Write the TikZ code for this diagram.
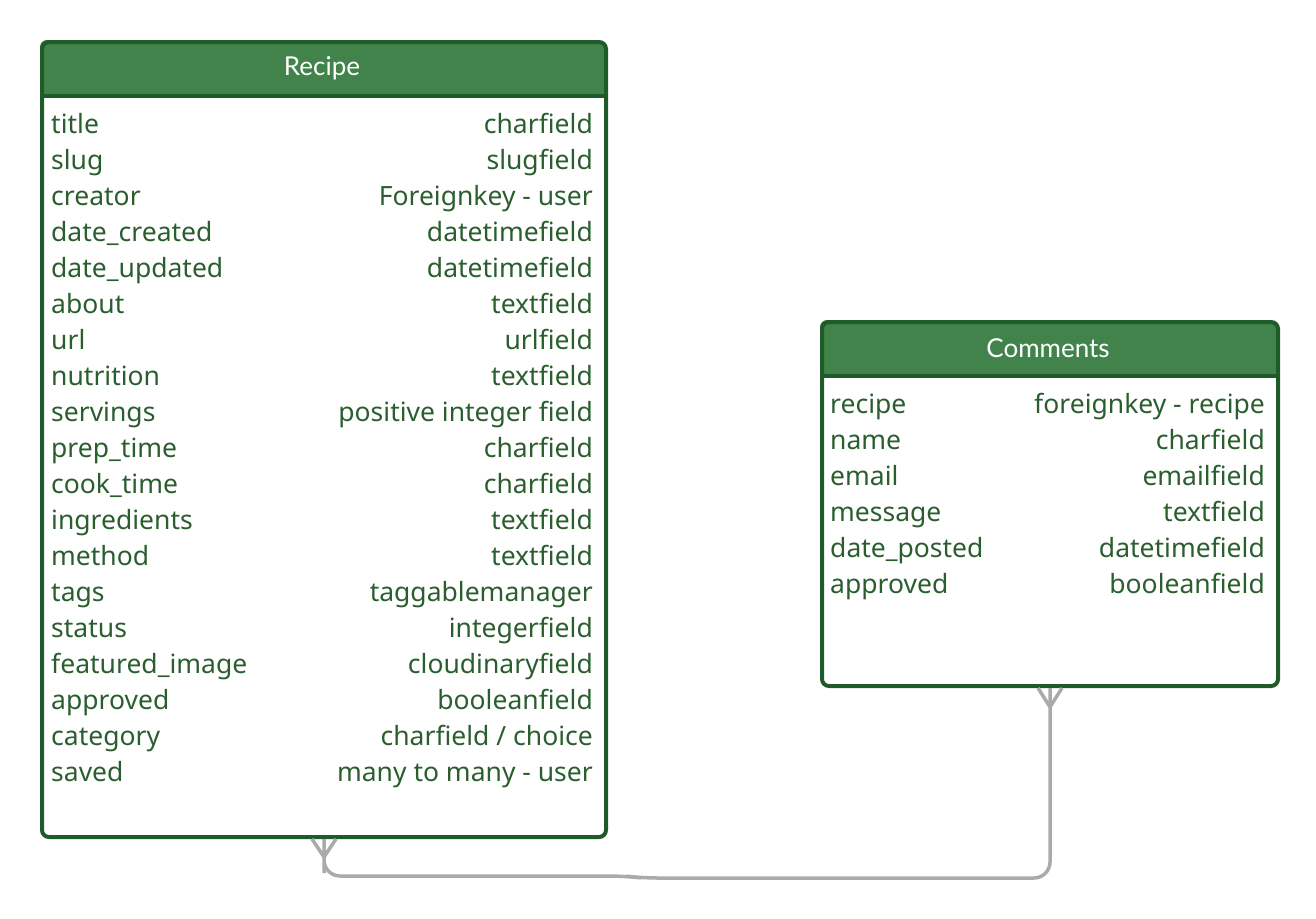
\documentclass[tikz,border=0pt]{standalone}
\usepackage{fontspec}
\setmainfont{Noto Sans}[Ligatures=NoCommon]
\newfontfamily\headfont{Lato}
\usetikzlibrary{calc, positioning}

\definecolor{headgreen}{HTML}{42834B}
\definecolor{framegreen}{HTML}{1F5A29}
\definecolor{textgreen}{HTML}{2B5E2F}
\definecolor{linkgray}{HTML}{AAAAAA}

\tikzset{
  table/.style={draw=framegreen, line width=4pt, rounded corners=7pt, inner sep=0pt, anchor=north west},
  headtext/.style={text=white, font=\headfont\fontsize{26}{30}\selectfont, inner sep=0pt},
  field/.style={text=textgreen, font=\fontsize{26.5}{30}\selectfont, inner sep=0pt},
  link/.style={draw=linkgray, line width=3.5pt},
}

\begin{document}
\begin{tikzpicture}[x=1pt,y=-1pt]
    \useasboundingbox (0,0) rectangle (1316,918);
    % Recipe
    \begin{scope}
      \clip[rounded corners=7pt] (40,40) rectangle (604,835);
      \fill[headgreen] (40,40) rectangle (604,96);
    \end{scope}
    \node[table, minimum width=564pt, minimum height=795pt] (recipe) at (40,40) {};
    \draw[framegreen, line width=4pt] (40,96) -- (604,96);
    \node[headtext] (recipe-title) at (322,68) {Recipe};
    \foreach \name/\kind [count=\i] in {title/charfield, slug/slugfield,
        creator/Foreignkey - user, date\_created/datetimefield,
        date\_updated/datetimefield, about/textfield, url/urlfield,
        nutrition/textfield, servings/positive integer field,
        prep\_time/charfield, cook\_time/charfield, ingredients/textfield,
        method/textfield, tags/taggablemanager, status/integerfield,
        featured\_image/cloudinaryfield, approved/booleanfield,
        category/{charfield / choice}, saved/many to many - user} {
      \node[field, anchor=base west] (recipe-name\i) at (51,97+36*\i) {\name};
      \node[field, anchor=base east] (recipe-kind\i) at (593,97+36*\i) {\kind};
    }
    % Comments
    \begin{scope}
      \clip[rounded corners=7pt] (820,320) rectangle (1276,684);
      \fill[headgreen] (820,320) rectangle (1276,376);
    \end{scope}
    \node[table, minimum width=456pt, minimum height=364pt] (comments) at (820,320) {};
    \draw[framegreen, line width=4pt] (820,376) -- (1276,376);
    \node[headtext] (comments-title) at (1048,348) {Comments};
    \foreach \name/\kind [count=\i] in {recipe/foreignkey - recipe, name/charfield,
        email/emailfield, message/textfield, date\_posted/datetimefield,
        approved/booleanfield} {
      \node[field, anchor=base west] (comments-name\i) at (830,377+36*\i) {\name};
      \node[field, anchor=base east] (comments-kind\i) at (1265,377+36*\i) {\kind};
    }
    % Link
    \coordinate (recipe-foot) at ([yshift=-18pt]recipe.south);
    \coordinate (comments-foot) at ([yshift=-19pt]comments.south);
    \draw[link, rounded corners=16pt] (recipe.south) -- (recipe-foot) |- (625,876)
      -- (642,878) -| (comments-foot) -- (comments.south);
    \foreach \dx in {-12,12} {
      \draw[link] (recipe-foot) -- ([xshift=\dx pt]recipe.south);
      \draw[link] (comments-foot) -- ([xshift=\dx pt]comments.south);
    }
\end{tikzpicture}
\end{document}
